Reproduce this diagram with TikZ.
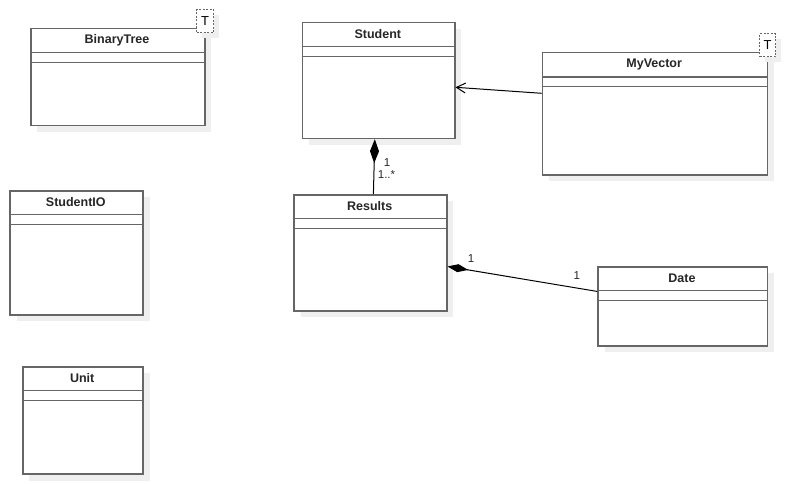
\documentclass[tikz,border=0pt]{standalone}
\usepackage{fontspec}
\setmainfont{Liberation Sans}
\usetikzlibrary{arrows.meta,calc}
\definecolor{boxgray}{HTML}{666666}
\definecolor{shadowgray}{HTML}{EFEFEF}
\tikzset{
 classbox/.style={draw=boxgray, line width=1.5pt, fill=white, inner sep=0pt, anchor=north west},
 shadowbox/.style={fill=shadowgray, draw=none, inner sep=0pt, anchor=north west},
 compline/.style={draw=boxgray, line width=1.5pt},
 classname/.style={font=\fontsize{12.5}{14}\selectfont\bfseries, text=black!85, inner sep=0pt},
 mult/.style={font=\fontsize{11.5}{13}\selectfont, inner sep=0pt, text=black!85},
 tmpl/.style={draw=boxgray, dash pattern=on 2pt off 1.5pt, line width=1.3pt, fill=white, inner sep=0pt, anchor=north west, font=\fontsize{13}{15}\selectfont},
 conn/.style={draw=black, line width=1pt},
}
\newcommand\umlclass[8]{%
 \node[shadowbox, minimum width={(#4)-(#2)}, minimum height={(#5)-(#3)}] (#1-sh) at ({#2+7},{#3+7}) {};
 \node[classbox, minimum width={(#4)-(#2)}, minimum height={(#5)-(#3)}] (#1) at (#2,#3) {};
 \draw[compline] (#2,#6) -- (#4,#6) (#2,#7) -- (#4,#7);
 \node[classname] (#1-name) at ({(#2+#4)/2},{(#3+#6)/2}) {#8};
}
\newcommand\umltmpl[5]{%
 \node[shadowbox, minimum width={(#4)-(#2)}, minimum height={(#5)-(#3)}] (#1-sh) at ({#2+6},{#3+6}) {};
 \node[tmpl, minimum width={(#4)-(#2)}, minimum height={(#5)-(#3)}] (#1) at (#2,#3) {T};
}
\begin{document}
\begin{tikzpicture}[x=1pt,y=-1pt]
\useasboundingbox (0,0) rectangle (787,484);
\umlclass{binarytree}{30}{28}{204}{125}{52.7}{62.7}{BinaryTree}
\umlclass{student}{301.7}{22}{454}{137.7}{46.7}{56.7}{Student}
\umlclass{results}{293.3}{194}{446}{310}{218.7}{228.7}{Results}
\umlclass{date}{597.3}{266}{766.7}{345}{290.3}{300.7}{Date}
\umlclass{myvector}{541.7}{52}{766.7}{174}{77}{86.7}{MyVector}
\umlclass{studentio}{9.3}{190}{142.3}{314}{214.3}{224.7}{StudentIO}
\umlclass{unit}{22}{366}{142.3}{473.3}{390.7}{400.7}{Unit}
\umltmpl{bt-T}{196}{9}{213}{32}
\umltmpl{mv-T}{759}{33}{775}{56}
\draw[conn, -{Straight Barb[length=9pt,width=10pt,line width=1pt]}] ([yshift=-41.3pt]myvector.north west) -- ([yshift=-6.7pt]student.east);
\draw[conn, {Diamond[length=24pt,width=9pt]}-] ([xshift=-3.8pt]student.south) -- ([xshift=3pt]results.north);
\draw[conn, {Diamond[length=21pt,width=8pt]}-] ([yshift=-13.7pt]results.east) -- ([yshift=14.8pt]date.west);
\node[mult, anchor=south] (m1) at (387,166.3) {1};
\node[mult, anchor=north] (m2) at (386.5,170) {1..*};
\node[mult] (m3) at (471,258.3) {1};
\node[mult] (m4) at (576.7,275.7) {1};
\end{tikzpicture}
\end{document}
